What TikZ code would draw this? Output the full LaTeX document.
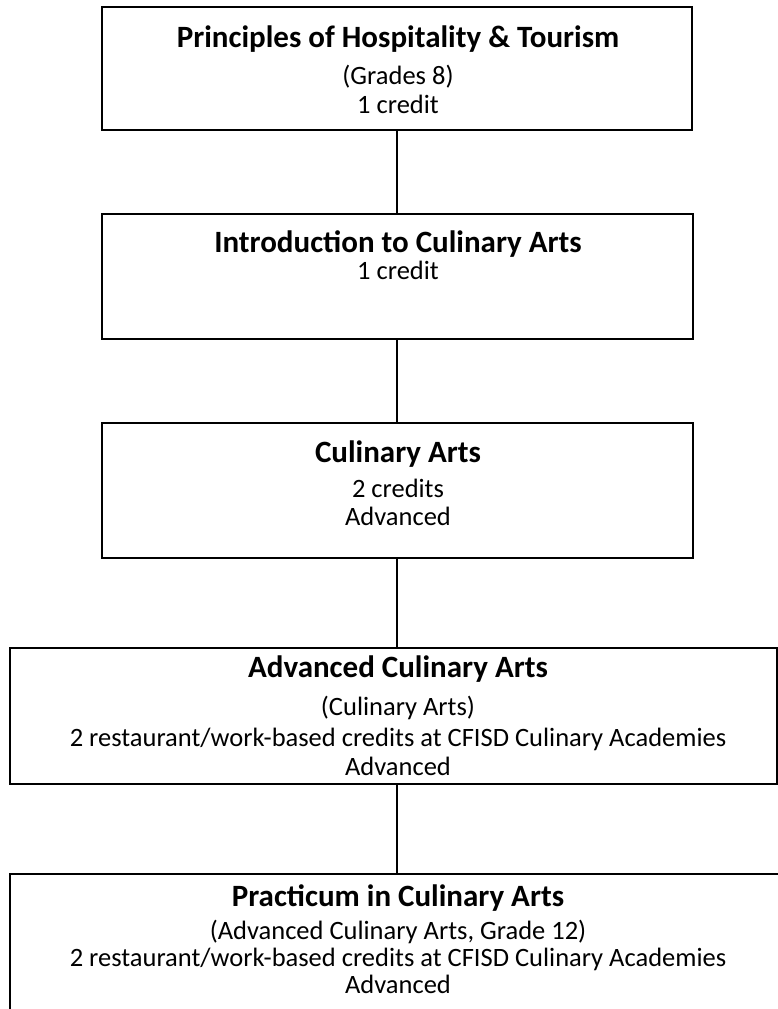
\documentclass[tikz,border=0pt]{standalone}
\usepackage{fontspec}
\setmainfont{Carlito}
\begin{document}
\begin{tikzpicture}[x=1pt,y=-1pt,
  box/.style={draw=black,line width=2.4pt,fill=none,inner sep=0pt,rectangle},
  conn/.style={draw=black,line width=2.1pt},
  ttl/.style={anchor=base,inner sep=0pt,font=\fontsize{31}{36}\selectfont\bfseries},
  txt/.style={anchor=base,inner sep=0pt,font=\fontsize{26.5}{31}\selectfont}]
\useasboundingbox (0,0) rectangle (778,1009);
\clip (0,0) rectangle (778,1009);
\fill[white] (0,0) rectangle (778,1009);
% boxes
\node[box,minimum width=590pt,minimum height=123pt] (b1) at (397,68.5) {};
\node[box,minimum width=591pt,minimum height=125pt] (b2) at (397.5,276.5) {};
\node[box,minimum width=591pt,minimum height=135pt] (b3) at (397.5,490.5) {};
\node[box,minimum width=767pt,minimum height=136pt] (b4) at (393.5,716) {};
\node[box,minimum width=790pt,minimum height=160pt] (b5) at (405,954) {};
\coordinate (cx) at (397,0);
% connectors
\draw[conn] (b1.south -| cx) -- (b2.north -| cx);
\draw[conn] (b2.south -| cx) -- (b3.north -| cx);
\draw[conn] (b3.south -| cx) -- (b4.north -| cx);
\draw[conn] (b4.south -| cx) -- (b5.north -| cx);
% texts
\node[ttl] (t1a) at (398,47) {Principles of Hospitality \& Tourism};
\node[txt] (t1b) at (398,84) {(Grades 8)};
\node[txt] (t1c) at (398,113) {1 credit};
\node[ttl] (t2a) at (398,252) {Introduction to Culinary Arts};
\node[txt] (t2b) at (398,279) {1 credit};
\node[ttl] (t3a) at (398,462) {Culinary Arts};
\node[txt] (t3b) at (398,497) {2 credits};
\node[txt] (t3c) at (398,525) {Advanced};
\node[ttl] (t4a) at (398,677) {Advanced Culinary Arts};
\node[txt] (t4b) at (398,715) {(Culinary Arts)};
\node[txt] (t4c) at (398,746) {2 restaurant/work-based credits at CFISD Culinary Academies};
\node[txt] (t4d) at (398,775) {Advanced};
\node[ttl] (t5a) at (398,906) {Practicum in Culinary Arts};
\node[txt] (t5b) at (398,939) {(Advanced Culinary Arts, Grade 12)};
\node[txt] (t5c) at (398,966) {2 restaurant/work-based credits at CFISD Culinary Academies};
\node[txt] (t5d) at (398,993) {Advanced};
\end{tikzpicture}
\end{document}
